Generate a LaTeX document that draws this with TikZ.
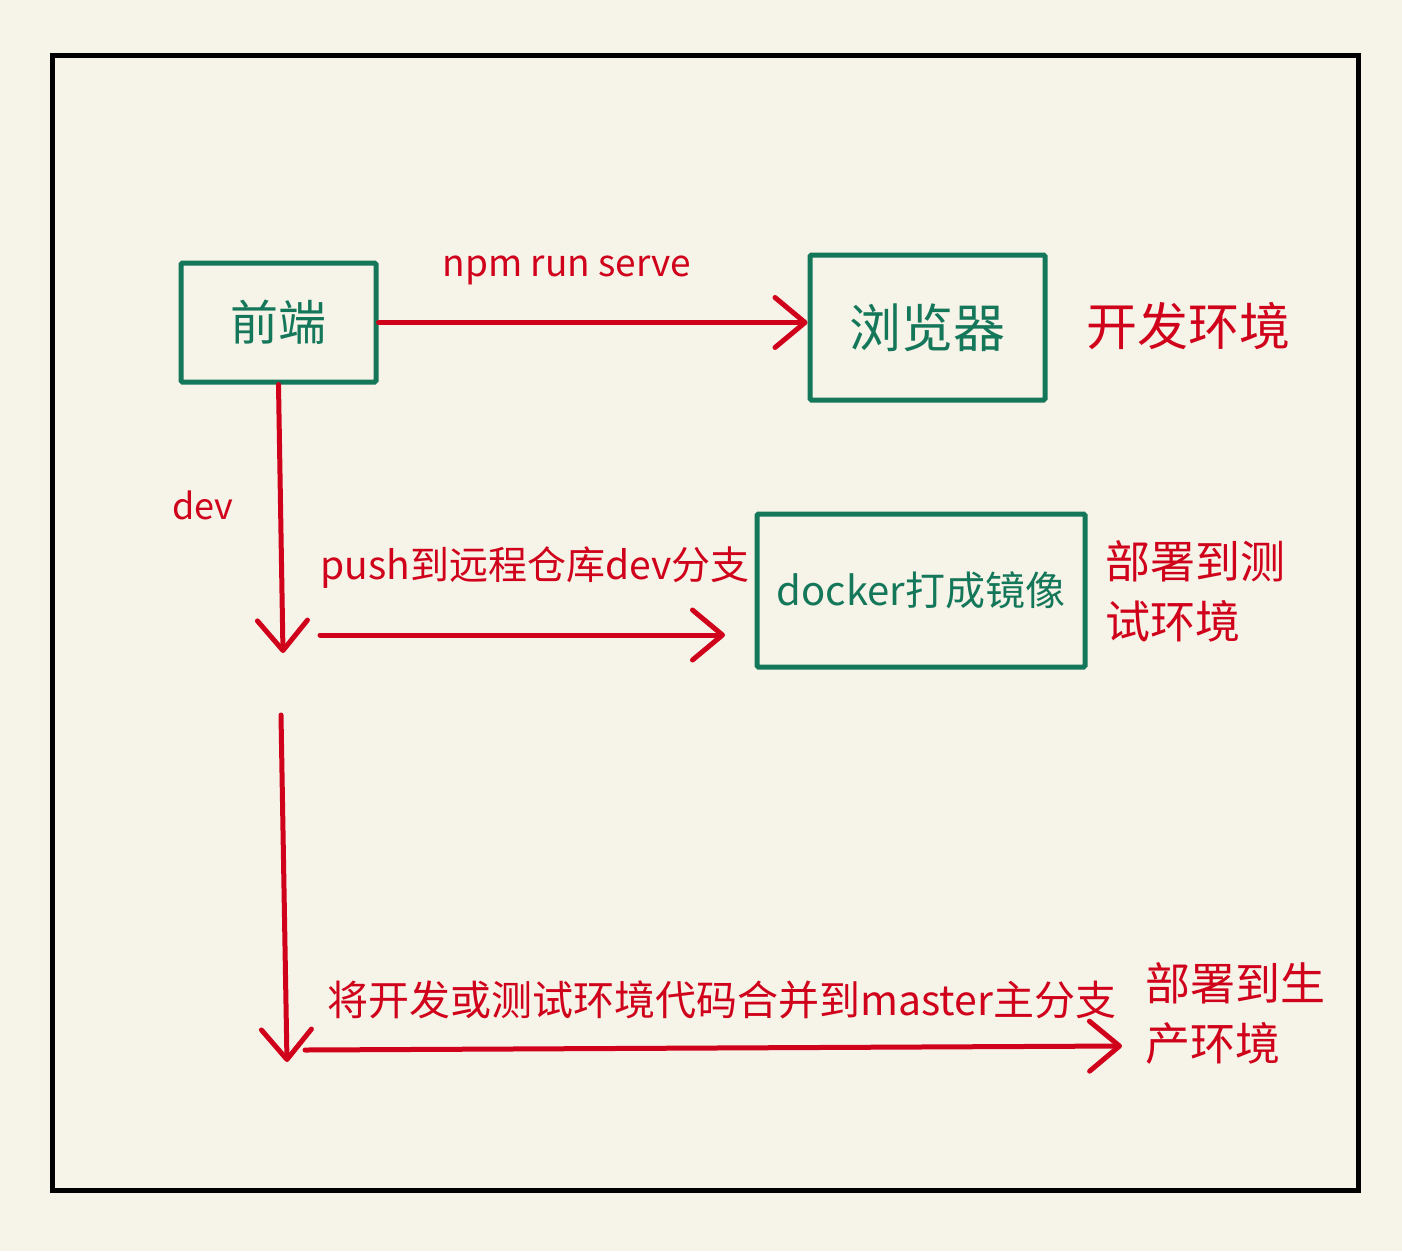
\documentclass[tikz,border=0pt]{standalone}
\usepackage{fontspec}
\setmainfont{Noto Sans CJK SC}
\usetikzlibrary{arrows.meta}
\definecolor{bgc}{HTML}{F6F3E8}
\definecolor{boxg}{HTML}{14775A}
\definecolor{redc}{HTML}{D0021B}
\tikzset{
  gbox/.style={draw=boxg, line width=5pt, rounded corners=1.5pt, text=boxg, inner sep=0pt, anchor=center},
  rarrow/.style={draw=redc, line width=5pt, line cap=round, line join=round,
    -{Straight Barb[length=30pt,width=50pt,line width=5pt,round]}},
  rlabel/.style={text=redc, anchor=center, inner sep=0pt},
  rblock/.style={text=redc, anchor=north west, inner sep=0pt, align=left, font=\fontsize{45}{60}\selectfont},
}
\newcommand{\fsz}[1]{\fontsize{#1}{#1}\selectfont}
\begin{document}
\begin{tikzpicture}[x=1pt,y=-1pt]
\fill[bgc] (0,0) rectangle (1402,1251);
\useasboundingbox (0,0) rectangle (1402,1251);
\draw[line width=5pt, black] (52,55) rectangle (1358,1190);

\node[gbox, minimum width=195pt, minimum height=119pt] (qd) at (278.5,322.5) {\fsz{48}前端};
\node[gbox, minimum width=235pt, minimum height=145pt] (llq) at (927.5,327.5) {\fsz{52}浏览器};
\node[gbox, minimum width=328pt, minimum height=153pt] (dk) at (921,590.5) {\fsz{40}docker打成镜像};

\coordinate (d1) at (283,653);
\coordinate (h1s) at (320,635);
\coordinate (h1e) at (725,635);
\coordinate (d2s) at (281,715);
\coordinate (d2e) at (287,1062);
\coordinate (h2s) at (305,1050);
\coordinate (h2e) at (1122,1046);

\draw[rarrow] (qd.east) -- (qd.east -| llq.west);
\draw[rarrow] (qd.south) -- (d1);
\draw[rarrow] (h1s) -- (h1e);
\draw[rarrow] (d2s) -- (d2e);
\draw[rarrow] (h2s) -- (h2e);

\node[rlabel] (l1) at (567,270) {\fsz{37}npm run serve};
\node[rlabel] (l2) at (203,505) {\fsz{36}dev};
\node[rlabel] (l3) at (535,568) {\fsz{39}push到远程仓库dev分支};
\node[rlabel] (l4) at (722,1000) {\fsz{41}将开发或测试环境代码合并到master主分支};
\node[rlabel] (r1) at (1188,326) {\fsz{51}开发环境};
\node[rblock] (r2) at (1105,540) {部署到测\\试环境};
\node[rblock] (r3) at (1145,962) {部署到生\\产环境};
\end{tikzpicture}
\end{document}
